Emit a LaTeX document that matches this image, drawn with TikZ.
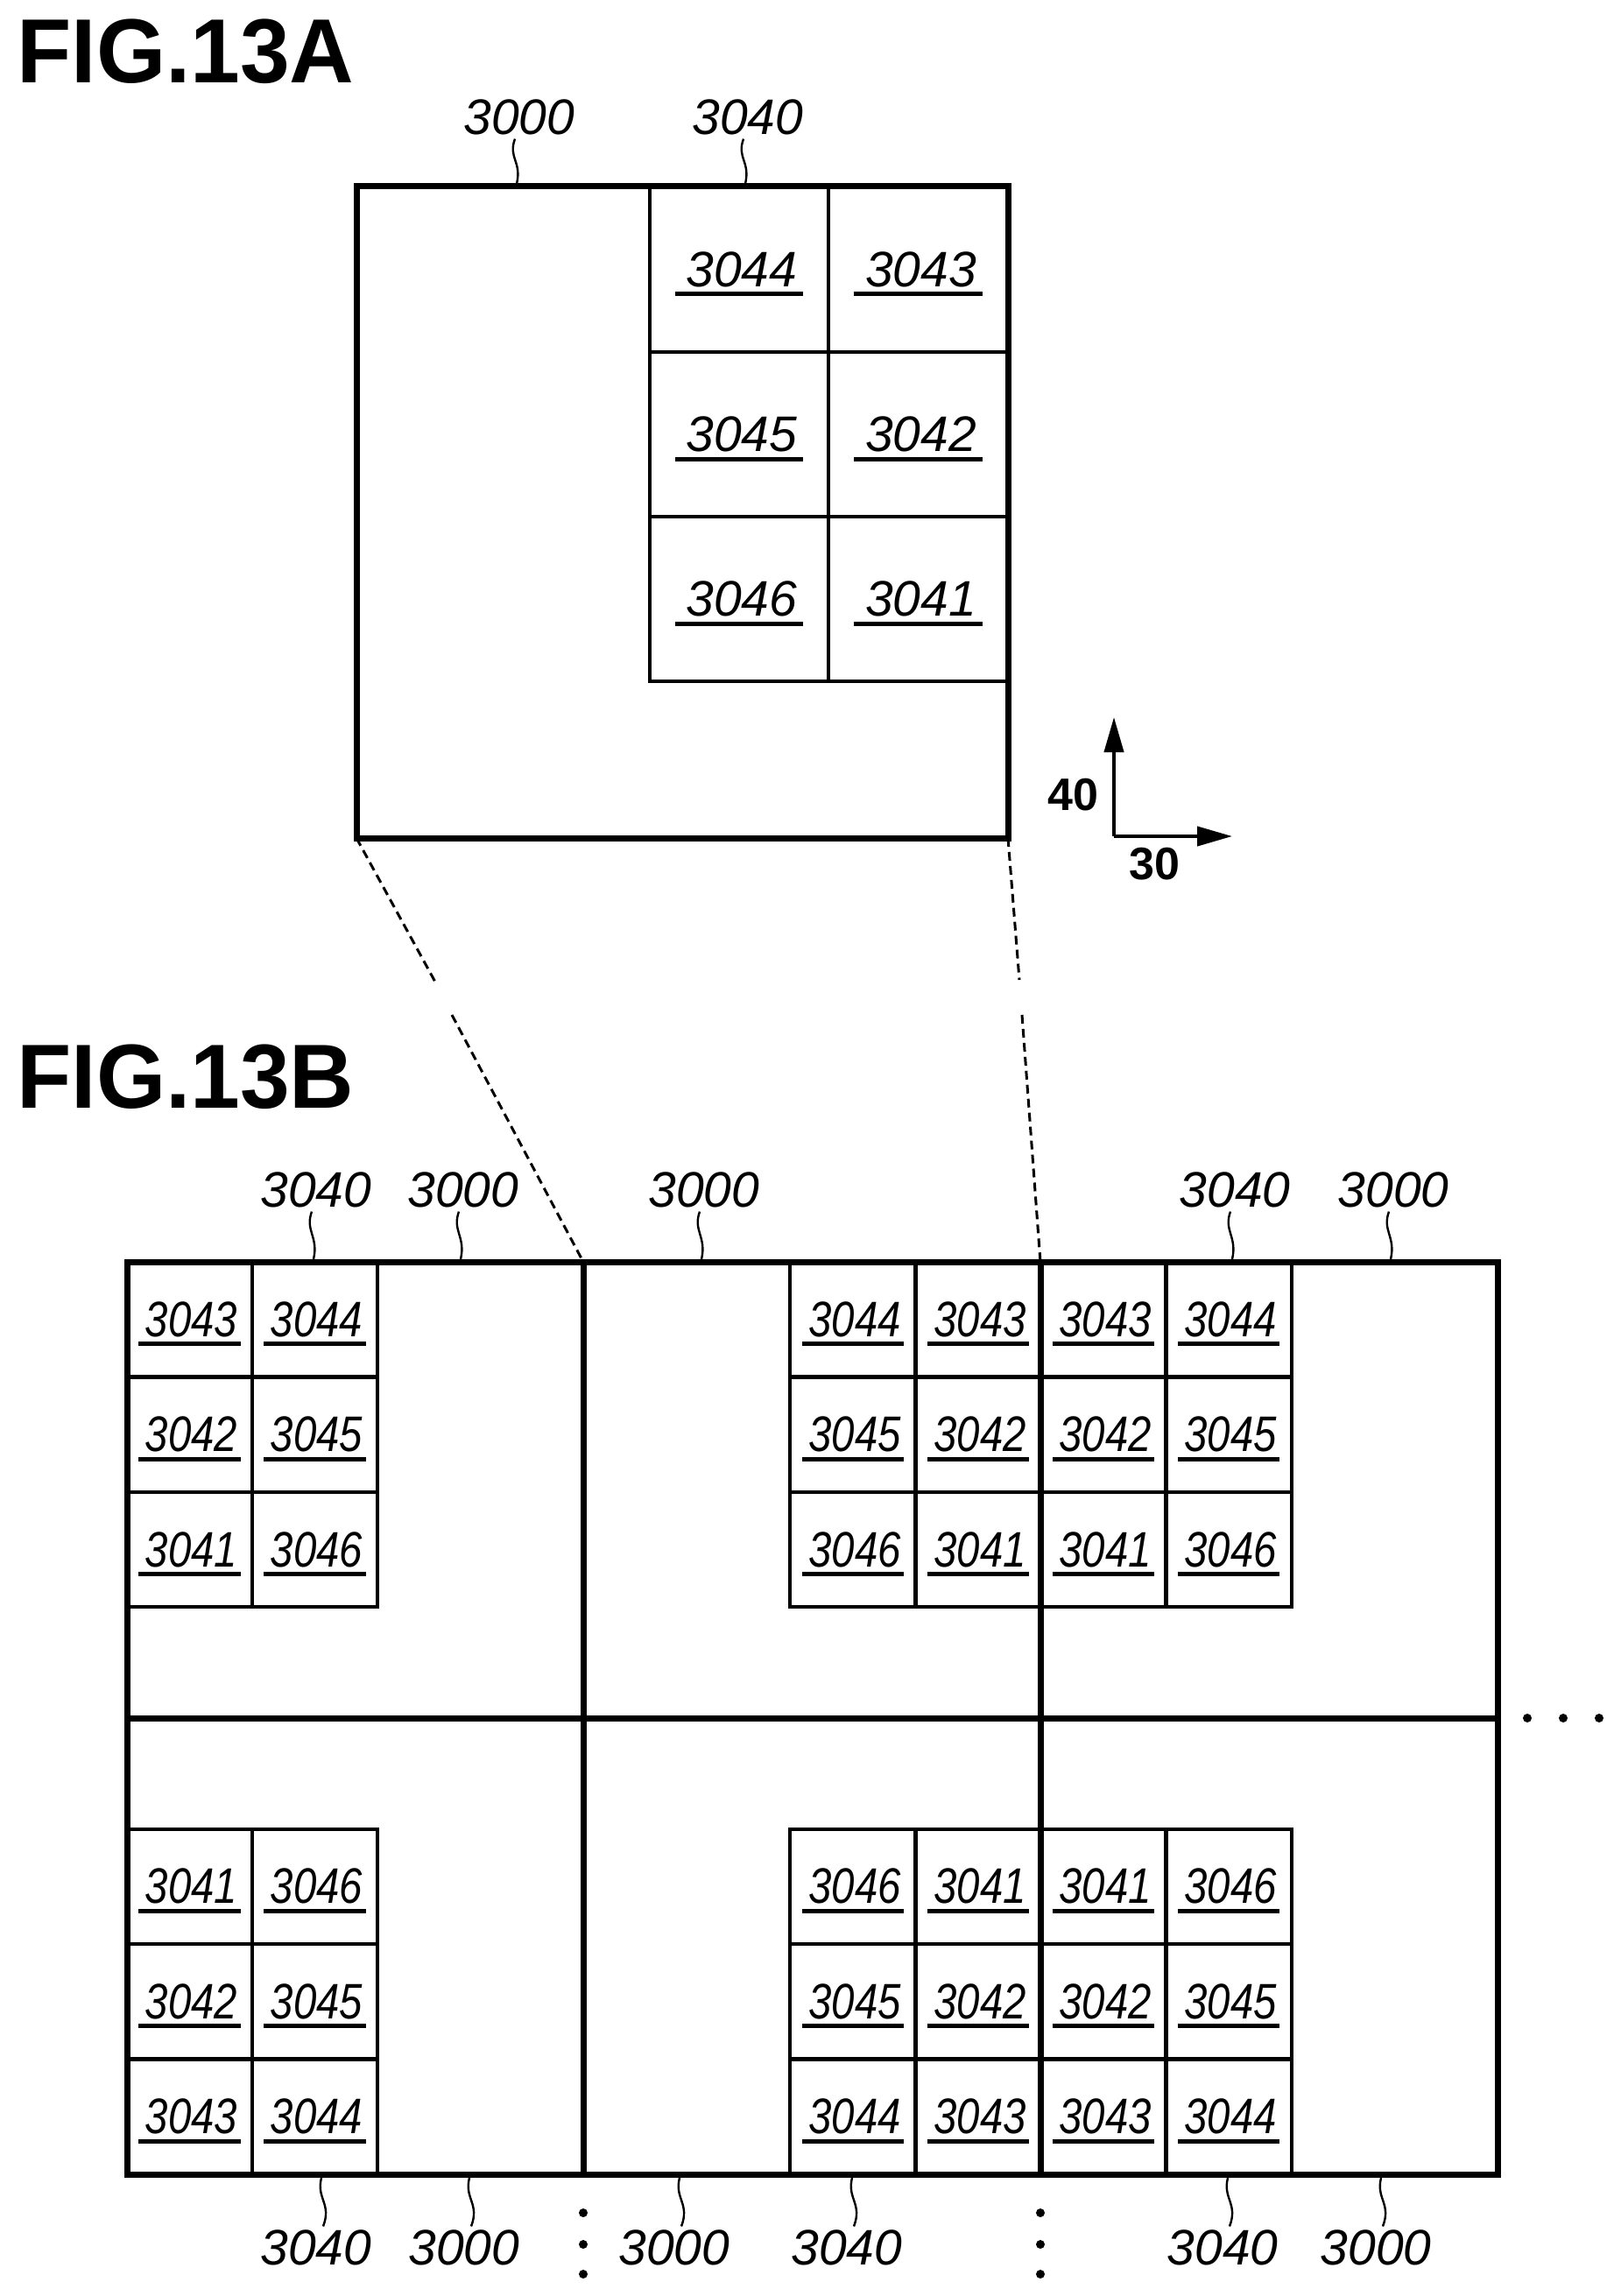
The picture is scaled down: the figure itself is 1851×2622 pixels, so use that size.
\documentclass[tikz,border=0pt]{standalone}
\usepackage{fontspec}
\setmainfont{Liberation Sans}
\newfontfamily\narrowfont[FakeStretch=0.83]{Liberation Sans}
\newfontfamily\titlefont[FakeStretch=0.98]{Liberation Sans}
\usetikzlibrary{arrows.meta}

\begin{document}
\begin{tikzpicture}[x=0.5pt,y=-0.5pt,
        frame/.style={draw,line width=3.5pt,inner sep=0pt,outer sep=0pt},
        wall/.style={line width=3.5pt},
        cell/.style={draw,line width=2pt,inner sep=0pt,outer sep=0pt},
        cellnum/.style={inner sep=0pt,minimum height=28pt,font=\narrowfont\itshape\fontsize{28.5}{30}\selectfont},
        bignum/.style={cellnum,font=\itshape\fontsize{28.5}{30}\selectfont},
        refnum/.style={inner sep=2pt,font=\itshape\fontsize{28.5}{30}\selectfont},
        underbar/.style={line width=2.5pt},
        leader/.style={line width=1.2pt},
        guide/.style={line width=1.5pt,dash pattern=on 5pt off 3pt},
        title/.style={inner sep=0pt,anchor=west,font=\titlefont\bfseries\fontsize{52}{54}\selectfont},
        axisnum/.style={inner sep=0pt,font=\bfseries\fontsize{26}{28}\selectfont},
        axis/.style={line width=2pt,-{Triangle[length=20pt,width=11pt]}},
        dot/.style={circle,fill,inner sep=0pt,minimum size=5pt}]
    \useasboundingbox (0,0) rectangle (1851,2622);

    \node[title] (figa) at (19,59) {FIG.13A};
    \node[title] (figb) at (19,1230) {FIG.13B};

    % enlarged chip
    \foreach \cx/\cy/\t [count=\i] in {844/307.5/3044,1048.5/307.5/3043,844/496/3045,1048.5/496/3042,844/684/3046,1048.5/684/3041}{
        \node[cell,minimum width=102.25pt,minimum height=94pt] (ca\i) at (\cx,\cy) {};
        \node[bignum,minimum width=73pt] (na\i) at (ca\i) {\hspace*{3pt}\t};
        \draw[underbar] (na\i.south west)--(na\i.south east);
    }
    \node[frame,minimum size=372pt] (chipa) at (779,585) {};

    \foreach \x/\t [count=\i] in {593/3000,854/3040}{
        \node[refnum] (ta\i) at (\x,134) {\t};
        \coordinate (fa\i) at (\x-3,210);
        \draw[leader] ([xshift=-2.5pt]ta\i.south) .. controls +(-8,22) and +(6,-26) .. (fa\i);
    }

    \coordinate (o) at (1272,955);
    \coordinate (up) at (1272,819);
    \coordinate (right) at (1407,955);
    \draw[axis] (o)--(up);
    \draw[axis] (o)--(right);
    \node[axisnum] (n40) at (1225,908) {40};
    \node[axisnum] (n30) at (1318,987) {30};

    % array of chips
    \foreach \bx/\by/\nA/\nB/\nC/\nD/\nE/\nF [count=\k] in {
        216.5/1506.5/3043/3044/3042/3045/3041/3046,
        974/1506.5/3044/3043/3045/3042/3046/3041,
        1260/1506.5/3043/3044/3042/3045/3041/3046,
        216.5/2154/3041/3046/3042/3045/3043/3044,
        974/2154/3046/3041/3045/3042/3044/3043,
        1260/2154/3041/3046/3042/3045/3043/3044}{
        \foreach \dx/\dy/\t [count=\i] in {0/0/\nA,143/0/\nB,0/131.5/\nC,143/131.5/\nD,0/263/\nE,143/263/\nF}{
            \node[cell,minimum width=71.75pt,minimum height=65.5pt] (c\k-\i) at (\bx+\dx,\by+\dy) {};
            \node[cellnum,minimum width=58pt] (n\k-\i) at (c\k-\i) {\hspace*{2pt}\t};
            \draw[underbar] (n\k-\i.south west)--(n\k-\i.south east);
        }
    }
    \node[frame,minimum width=782.5pt,minimum height=521pt] (chipb) at (927.5,1962) {};
    \coordinate (w1) at (666,1441);
    \coordinate (w1b) at (666,2483);
    \coordinate (w2) at (1188,1441);
    \coordinate (w2b) at (1188,2483);
    \coordinate (hl) at (145,1962);
    \coordinate (hr) at (1710,1962);
    \draw[wall] (w1)--(w1b);
    \draw[wall] (w2)--(w2b);
    \draw[wall] (hl)--(hr);

    \coordinate (g1) at (499,1125);
    \coordinate (g2) at (516,1159);
    \coordinate (g3) at (1164,1119);
    \coordinate (g4) at (1167,1159);
    \draw[guide] (chipa.south west)--(g1);
    \draw[guide] (g2)--(w1);
    \draw[guide] (chipa.south east)--(g3);
    \draw[guide] (g4)--(w2);

    \foreach \x/\t [count=\i] in {361/3040,529/3000,804/3000,1410/3040,1591/3000}{
        \node[refnum] (tb\i) at (\x,1359) {\t};
        \coordinate (fb\i) at (\x-3,1438);
        \draw[leader] ([xshift=-2.5pt]tb\i.south) .. controls +(-8,22) and +(6,-26) .. (fb\i);
    }
    \foreach \x/\t [count=\i] in {361/3040,530/3000,770/3000,967/3040,1396/3040,1571/3000}{
        \node[refnum] (bb\i) at (\x,2567) {\t};
        \coordinate (fc\i) at (\x+6,2487);
        \draw[leader] (fc\i) .. controls +(-6,24) and +(10,-26) .. ([xshift=4pt]bb\i.north);
    }

    \foreach \x [count=\i] in {666,1188}{
        \node[dot] (da\i) at (\x,2527) {};
        \node[dot] (db\i) at (\x,2563) {};
        \node[dot] (dc\i) at (\x,2597) {};
    }
    \foreach \x [count=\i] in {1744,1785,1826}{
        \node[dot] (dr\i) at (\x,1962) {};
    }
\end{tikzpicture}
\end{document}
